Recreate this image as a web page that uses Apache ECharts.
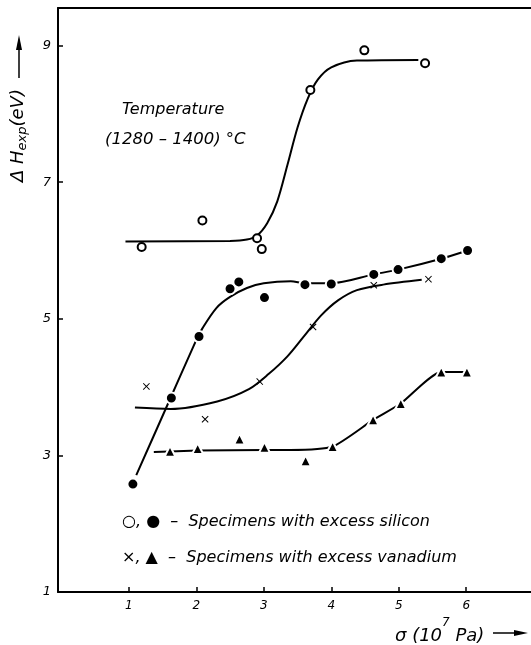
<!DOCTYPE html>
<html>
<head>
<meta charset="utf-8">
<script src="https://cdn.jsdelivr.net/npm/echarts@6/dist/echarts.min.js"></script>
<style>
  html, body { margin: 0; padding: 0; background: #fff; }
  #chart { width: 531px; height: 645px; }
</style>
</head>
<body>
<div id="chart"></div>
<script>
// tick positions
var xTicks = [1, 2, 3, 4, 5, 6];
var yTicks = [1, 3, 5, 7, 9];

// measured points (sigma in 10^7 Pa, dH in eV)
var openX   = [1.19, 2.09, 2.90, 2.97, 3.69, 4.49, 5.39];
var openY   = [6.05, 6.44, 6.18, 6.02, 8.35, 8.93, 8.74];
var filledX = [1.06, 1.63, 2.04, 2.50, 2.63, 3.01, 3.61, 4.00, 4.63, 4.99, 5.63, 6.02];
var filledY = [2.58, 3.84, 4.74, 5.44, 5.54, 5.31, 5.50, 5.51, 5.65, 5.72, 5.88, 6.00];
var crossX  = [1.26, 2.13, 2.94, 3.73, 4.63, 5.44];
var crossY  = [4.01, 3.53, 4.08, 4.88, 5.49, 5.58];
var triX    = [1.61, 2.02, 2.64, 3.01, 3.62, 4.02, 4.62, 5.03, 5.63, 6.01];
var triY    = [3.06, 3.10, 3.24, 3.12, 2.92, 3.13, 3.52, 3.76, 4.22, 4.22];

// hand-drawn fit curves
var openFitX   = [0.95, 2.50, 2.75, 2.90, 3.05, 3.20, 3.35, 3.50, 3.65, 3.80, 4.00, 4.38, 5.29];
var openFitY   = [6.13, 6.14, 6.16, 6.22, 6.40, 6.72, 7.25, 7.80, 8.22, 8.50, 8.68, 8.78, 8.79];
var filledFitX = [1.11, 1.55, 2.00, 2.09, 2.30, 2.50, 2.75, 3.00, 3.40, 3.61, 4.00, 4.63, 4.99, 5.63, 6.02];
var filledFitY = [2.71, 3.69, 4.69, 4.86, 5.16, 5.32, 5.45, 5.52, 5.55, 5.52, 5.52, 5.65, 5.72, 5.88, 6.00];
var crossFitX  = [1.09, 1.62, 2.31, 2.78, 3.07, 3.35, 3.60, 3.85, 4.10, 4.38, 4.77, 5.34];
var crossFitY  = [3.70, 3.68, 3.79, 3.97, 4.19, 4.45, 4.75, 5.05, 5.27, 5.42, 5.50, 5.57];
var triFitX    = [1.37, 2.02, 3.01, 3.39, 4.02, 4.62, 5.03, 5.63, 6.01];
var triFitY    = [3.05, 3.07, 3.08, 3.08, 3.13, 3.52, 3.76, 4.22, 4.22];

function pairs(xs, ys) {
    return xs.map(function (x, i) { return [x, ys[i]]; });
}

var font = '"DejaVu Sans"';
var crossPath = 'path://M1,0 L5,4 L9,0 L10,1 L6,5 L10,9 L9,10 L5,6 L1,10 L0,9 L4,5 L0,1 Z';

function fitLine(xs, ys, smooth) {
    return {
        type: 'line',
        data: pairs(xs, ys),
        smooth: smooth,
        showSymbol: false,
        lineStyle: { color: '#000', width: 2 },
        z: 2
    };
}

function points(xs, ys, symbol, size, style) {
    return {
        type: 'scatter',
        data: pairs(xs, ys),
        symbol: symbol,
        symbolSize: size,
        itemStyle: style,
        z: 5
    };
}

var option = {
    animation: false,
    backgroundColor: '#fff',
    grid: { left: 58, right: 0, top: 8, bottom: 53 },
    xAxis: [
        {
            type: 'value',
            min: -0.05,
            max: 6.96,
            axisLine: { onZero: false, lineStyle: { color: '#000', width: 2 } },
            axisTick: { inside: true, length: 5, customValues: xTicks, lineStyle: { color: '#000', width: 1.5 } },
            axisLabel: { customValues: xTicks, margin: 8, color: '#000', fontFamily: font, fontStyle: 'italic', fontSize: 12 },
            splitLine: { show: false }
        },
        {
            type: 'value',
            position: 'top',
            min: -0.05,
            max: 6.96,
            axisLine: { onZero: false, lineStyle: { color: '#000', width: 2 } },
            axisTick: { show: false },
            axisLabel: { show: false },
            splitLine: { show: false }
        }
    ],
    yAxis: {
        type: 'value',
        min: 1,
        max: 9.55,
        axisLine: { onZero: false, lineStyle: { color: '#000', width: 2 } },
        axisTick: { inside: true, length: 5, customValues: yTicks, lineStyle: { color: '#000', width: 1.5 } },
        axisLabel: { customValues: yTicks, margin: 7, color: '#000', fontFamily: font, fontStyle: 'italic', fontSize: 13 },
        splitLine: { show: false }
    },
    series: [
        fitLine(openFitX, openFitY, 0.3),
        fitLine(filledFitX, filledFitY, 0.3),
        fitLine(crossFitX, crossFitY, 0.3),
        fitLine(triFitX, triFitY, 0.2),
        points(openX, openY, 'circle', 8, { color: '#fff', borderColor: '#000', borderWidth: 2, opacity: 1 }),
        points(filledX, filledY, 'circle', 11, { color: '#000', borderColor: '#fff', borderWidth: 2, opacity: 1 }),
        points(crossX, crossY, crossPath, 7, { color: '#000', opacity: 1 }),
        points(triX, triY, 'triangle', 11, { color: '#000', borderColor: '#fff', borderWidth: 2, opacity: 1 })
    ],
    graphic: [
        {
            type: 'text', left: 122, top: 102,
            style: { text: 'Temperature', font: 'italic 16px ' + font, fill: '#000' }
        },
        {
            type: 'text', left: 105, top: 131,
            style: { text: '(1280 \u2013 1400) \u00b0C', font: 'italic 16.5px ' + font, fill: '#000' }
        },
        {
            type: 'text', left: 122, top: 514,
            style: { text: '\u25cb, \u25cf  \u2013  Specimens with excess silicon', font: 'italic 16px ' + font, fill: '#000' }
        },
        {
            type: 'text', left: 122, top: 550,
            style: { text: '\u00d7, \u25b2  \u2013  Specimens with excess vanadium', font: 'italic 16px ' + font, fill: '#000' }
        },
        {
            // x axis name
            type: 'text', left: 395, top: 617,
            style: {
                text: '{a|\u03c3 (10}{s|7}{a| Pa)}',
                rich: {
                    a: { fontFamily: font, fontStyle: 'italic', fontSize: 18, lineHeight: 28, verticalAlign: 'bottom', fill: '#000' },
                    s: { fontFamily: font, fontStyle: 'italic', fontSize: 12, lineHeight: 28, verticalAlign: 'top', fill: '#000' }
                }
            }
        },
        {
            type: 'line', shape: { x1: 493, y1: 633, x2: 520, y2: 633 },
            style: { stroke: '#000', lineWidth: 1.5 }
        },
        {
            type: 'polygon', shape: { points: [[514, 630], [528, 633], [514, 636]] },
            style: { fill: '#000' }
        },
        {
            // y axis name, reads bottom to top
            type: 'text', x: 6, y: 182, rotation: Math.PI / 2,
            style: {
                text: '{a|\u0394 H}{s|exp}{a|(eV)}',
                rich: {
                    a: { fontFamily: font, fontStyle: 'italic', fontSize: 18, lineHeight: 24, fill: '#000' },
                    s: { fontFamily: font, fontStyle: 'italic', fontSize: 13, lineHeight: 24, padding: [9, 0, 0, 0], fill: '#000' }
                }
            }
        },
        {
            type: 'line', shape: { x1: 19, y1: 78, x2: 19, y2: 44 },
            style: { stroke: '#000', lineWidth: 1.5 }
        },
        {
            type: 'polygon', shape: { points: [[16, 50], [19, 35], [22, 50]] },
            style: { fill: '#000' }
        }
    ]
};

var myChart = echarts.init(document.getElementById('chart'));
myChart.setOption(option);
</script>
</body>
</html>
